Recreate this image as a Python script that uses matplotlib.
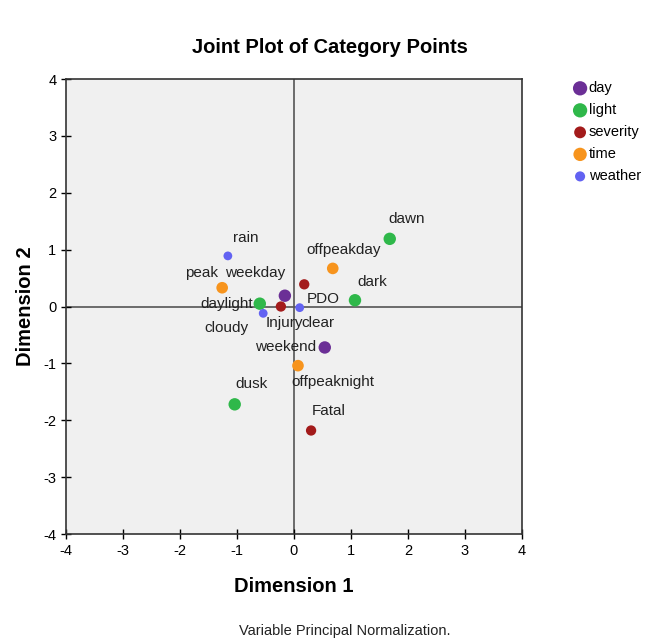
import matplotlib
matplotlib.use('Agg')
import matplotlib.pyplot as plt

plt.rcParams['font.family'] = ['Liberation Sans', 'DejaVu Sans']
plt.rcParams['axes.unicode_minus'] = False

# category points: (variable, label, dim1, dim2)
variables = ['day', 'light', 'severity', 'time', 'weather']
colors = {'day': '#6b2f96', 'light': '#2fb84a', 'severity': '#a31b1b',
          'time': '#f7941d', 'weather': '#6262f2'}
sizes = {'day': 80, 'light': 80, 'severity': 55, 'time': 70, 'weather': 40}

labels = ['weekday', 'weekend',
          'dawn', 'dark', 'daylight', 'dusk',
          'PDO', 'Injury', 'Fatal',
          'offpeakday', 'peak', 'offpeaknight',
          'rain', 'clear', 'cloudy']
groups = ['day', 'day',
          'light', 'light', 'light', 'light',
          'severity', 'severity', 'severity',
          'time', 'time', 'time',
          'weather', 'weather', 'weather']
dim1 = [-0.16, 0.54, 1.68, 1.07, -0.60, -1.04, 0.18, -0.23, 0.30,
        0.68, -1.26, 0.07, -1.16, 0.10, -0.54]
dim2 = [0.19, -0.72, 1.19, 0.11, 0.05, -1.72, 0.39, 0.00, -2.18,
        0.67, 0.33, -1.04, 0.89, -0.02, -0.12]

# label offsets in pixels (dx, dy) from each point
offsets = [(-30, 23), (-39, 0), (17, 20), (17, 18), (-33, 0), (17, 20),
           (19, -15), (3, -16), (18, 19), (11, 18), (-21, 15), (35, -16),
           (18, 18), (18, -15), (-37, -15)]

fig = plt.figure(figsize=(6.52, 6.44), dpi=100)
ax = fig.add_axes([0.1012, 0.1708, 0.6994, 0.7065])
ax.set_facecolor('#f0f0f0')

ax.axhline(0, color='#555555', lw=1.2, zorder=1)
ax.axvline(0, color='#555555', lw=1.2, zorder=1)

for var in variables:
    xs = [x for x, g in zip(dim1, groups) if g == var]
    ys = [y for y, g in zip(dim2, groups) if g == var]
    ax.scatter(xs, ys, s=sizes[var], color=colors[var], label=var,
               edgecolors='none', zorder=3)

for lab, x, y, off in zip(labels, dim1, dim2, offsets):
    ax.annotate(lab, (x, y), xytext=off, textcoords='offset pixels',
                ha='center', va='center', fontsize=11, color='#222222',
                zorder=4)

ax.set_xlim(-4, 4)
ax.set_ylim(-4, 4)
ax.set_xticks(range(-4, 5))
ax.set_yticks(range(-4, 5))
ax.tick_params(direction='inout', length=7, width=1, labelsize=10.5)
for sp in ax.spines.values():
    sp.set_linewidth(1.2)
    sp.set_color('#333333')

ax.set_xlabel('Dimension 1', fontsize=14.5, fontweight='bold', labelpad=14)
ax.set_ylabel('Dimension 2', fontsize=14.5, fontweight='bold', labelpad=6)
fig.text(0.506, 0.927, 'Joint Plot of Category Points', ha='center',
         va='center', fontsize=14.5, fontweight='bold')
fig.text(0.528, 0.02, 'Variable Principal Normalization.', ha='center',
         va='center', fontsize=10.5, color='#222222')

fig.legend(loc='upper left', bbox_to_anchor=(0.883, 0.874), frameon=False,
           handlelength=0.6, handletextpad=0.3, labelspacing=0.55,
           fontsize=10.5, markerscale=1.15, borderaxespad=0, borderpad=0)

fig.savefig('out.png', dpi=100)
